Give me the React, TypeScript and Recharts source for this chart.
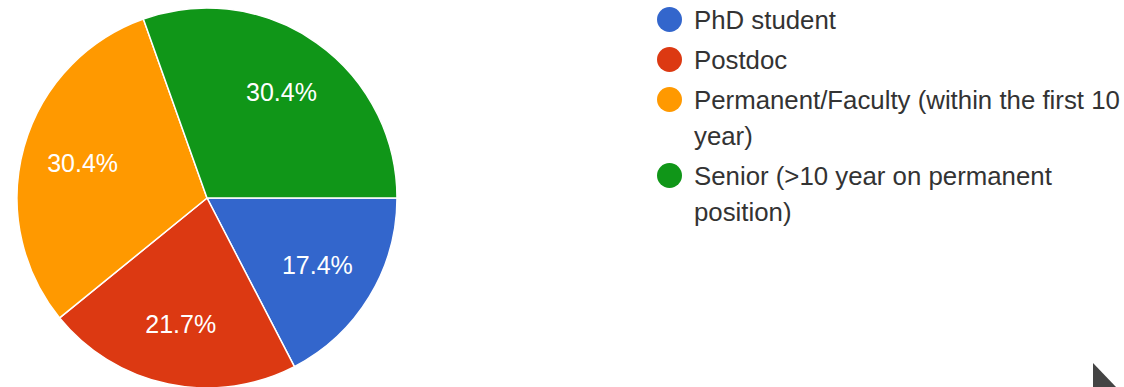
import { PieChart, Pie, Cell, Legend, Customized } from 'recharts';

const categories = [
  'PhD student',
  'Postdoc',
  'Permanent/Faculty (within the first 10 year)',
  'Senior (>10 year on permanent position)',
];
const counts = [4, 5, 7, 7];
const colors = ['#3366cc', '#dc3912', '#ff9900', '#109618'];

const data = categories.map((name, i) => ({ name, value: counts[i] }));

const RADIAN = Math.PI / 180;
const FONT = '"Liberation Sans", Arial, sans-serif';

function renderLabel(props: any) {
  const { cx, cy, midAngle, outerRadius, percent } = props;
  const r = outerRadius * 0.68;
  const x = cx + r * Math.cos(-midAngle * RADIAN);
  const y = cy + r * Math.sin(-midAngle * RADIAN);
  return (
    <text
      x={x}
      y={y}
      fill="#ffffff"
      textAnchor="middle"
      dominantBaseline="central"
      fontSize={25}
      fontFamily={FONT}
    >
      {(percent * 100).toFixed(1)}%
    </text>
  );
}

function LegendList() {
  return (
    <div style={{ fontFamily: FONT, fontSize: 25.8, color: '#333', lineHeight: '36px' }}>
      {categories.map((name, i) => (
        <div key={name} style={{ display: 'flex', alignItems: 'flex-start', marginBottom: 4 }}>
          <span
            style={{
              width: 25,
              height: 25,
              borderRadius: '50%',
              background: colors[i],
              flex: '0 0 25px',
              marginTop: 5,
              marginRight: 12,
            }}
          />
          <span>{name}</span>
        </div>
      ))}
    </div>
  );
}

export default function App() {
  return (
    <div style={{ position: 'fixed', left: 0, top: 0, background: '#fff' }}>
      <PieChart width={1124} height={387} margin={{ top: 0, right: 0, bottom: 0, left: 0 }}>
        <Pie
          data={data}
          dataKey="value"
          nameKey="name"
          cx={207}
          cy={198}
          outerRadius={190}
          startAngle={0}
          endAngle={-360}
          stroke="#ffffff"
          strokeWidth={1.5}
          label={renderLabel}
          labelLine={false}
          isAnimationActive={false}
        >
          {data.map((d, i) => (
            <Cell key={d.name} fill={colors[i]} />
          ))}
        </Pie>
        <Legend
          layout="vertical"
          align="right"
          verticalAlign="top"
          content={() => <LegendList />}
          wrapperStyle={{ left: 657, top: 2, width: 466 }}
        />
        <Customized
          component={() => <polygon points="1093,363 1093,387 1116,387" fill="#444" />}
        />
      </PieChart>
    </div>
  );
}
